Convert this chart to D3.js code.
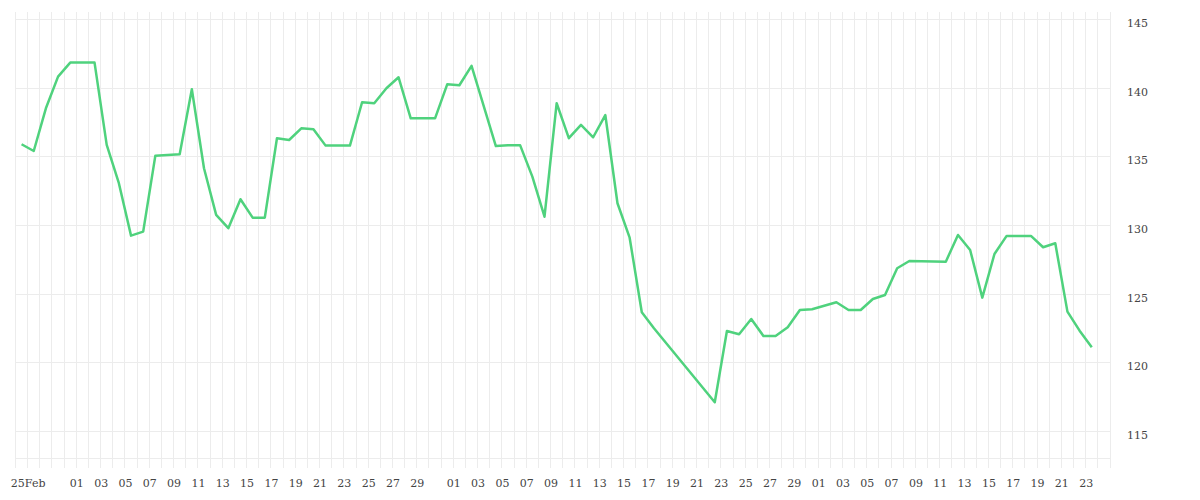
<!DOCTYPE html>
<html>
<head>
<meta charset="utf-8">
<script src="https://cdn.jsdelivr.net/npm/d3@7"></script>
<style>
  html, body { margin: 0; padding: 0; background: #fff; }
  svg { display: block; }
</style>
</head>
<body>
<svg id="chart" width="1200" height="500"></svg>
<script>
// ---- data ----
const dates = [
  "2019-02-24","2019-02-25","2019-02-26","2019-02-27","2019-02-28","2019-03-02","2019-03-03","2019-03-04",
  "2019-03-05","2019-03-06","2019-03-07","2019-03-09","2019-03-10","2019-03-11","2019-03-12","2019-03-13",
  "2019-03-14","2019-03-15","2019-03-16","2019-03-17","2019-03-18","2019-03-19","2019-03-20","2019-03-21",
  "2019-03-23","2019-03-24","2019-03-25","2019-03-26","2019-03-27","2019-03-28","2019-03-30","2019-03-31",
  "2019-04-01","2019-04-02","2019-04-04","2019-04-05","2019-04-06","2019-04-07","2019-04-08","2019-04-09",
  "2019-04-10","2019-04-11","2019-04-12","2019-04-13","2019-04-14","2019-04-15","2019-04-16","2019-04-17",
  "2019-04-22","2019-04-23","2019-04-24","2019-04-25","2019-04-26","2019-04-27","2019-04-28","2019-04-29",
  "2019-04-30","2019-05-02","2019-05-03","2019-05-04","2019-05-05","2019-05-06","2019-05-07","2019-05-08",
  "2019-05-11","2019-05-12","2019-05-13","2019-05-14","2019-05-15","2019-05-16","2019-05-18","2019-05-19",
  "2019-05-20","2019-05-21","2019-05-22","2019-05-23"
];
const values = [
  135.92,135.43,138.54,140.85,141.87,141.87,135.87,133.08,
  129.26,129.55,135.09,135.19,139.93,134.17,130.77,129.80,
  131.91,130.57,130.57,136.36,136.23,137.08,137.01,135.82,
  135.82,138.98,138.91,140.00,140.80,137.81,137.81,140.29,
  140.22,141.63,135.79,135.84,135.84,133.56,130.64,138.91,
  136.36,137.33,136.43,138.05,131.62,129.11,123.67,122.51,
  117.11,122.31,122.07,123.18,121.95,121.95,122.58,123.84,
  123.89,124.40,123.84,123.84,124.64,124.93,126.88,127.41,
  127.36,129.31,128.21,124.74,127.92,129.24,129.24,128.41,
  128.70,123.72,122.33,121.12
];
const yTicks = [115, 120, 125, 130, 135, 140, 145];
const xDomain = ["2019-02-24", "2019-05-25"];
const yDomain = [113.05, 145.56];
const hiddenTickLabels = ["2019-02-27", "2019-03-31"];

// ---- chart ----
const parse = d3.utcParse("%Y-%m-%d");
const svg = d3.select("#chart");
const plotLeft = 15.5, plotRight = 1110, plotTop = 12, plotBottom = 458;
const labelFont = '"DejaVu Serif", serif';

const x = d3.scaleUtc().domain(xDomain.map(parse)).range([plotLeft, plotRight]);
const y = d3.scaleLinear().domain(yDomain).range([plotBottom, plotTop]);

const data = dates.map((d, i) => ({ date: d3.utcHour.offset(parse(d), 12), value: values[i] }));

const grid = svg.append("g").attr("stroke", "#ececec").attr("stroke-width", 1).attr("shape-rendering", "crispEdges");

// vertical day grid (extends below the plot as tick marks)
const days = d3.utcDay.range(x.domain()[0], d3.utcDay.offset(x.domain()[1], 1));
grid.selectAll("line.v").data(days).join("line")
  .attr("x1", d => x(d)).attr("x2", d => x(d))
  .attr("y1", plotTop).attr("y2", plotBottom + 10);

// horizontal grid
grid.selectAll("line.h").data(yTicks).join("line")
  .attr("x1", plotLeft).attr("x2", plotRight)
  .attr("y1", d => y(d)).attr("y2", d => y(d));
grid.append("line").attr("x1", plotLeft).attr("x2", plotRight).attr("y1", plotBottom).attr("y2", plotBottom);

// line
const line = d3.line().x(d => x(d.date)).y(d => y(d.value));
svg.append("path").datum(data)
  .attr("fill", "none")
  .attr("stroke", "#4fd27d")
  .attr("stroke-width", 2.5)
  .attr("stroke-linejoin", "round")
  .attr("d", line);

// x axis labels
const fmtKey = d3.utcFormat("%Y-%m-%d");
const tickDates = d3.utcDay.every(2).range(x.domain()[0], x.domain()[1])
  .filter(d => !hiddenTickLabels.includes(fmtKey(d)));
const firstTick = tickDates[0];
const xAxis = d3.axisBottom(x)
  .tickValues(tickDates)
  .tickSize(0)
  .tickPadding(0)
  .tickFormat(d => +d === +firstTick ? d3.utcFormat("%d%b")(d) : d3.utcFormat("%d")(d));
const gx = svg.append("g").attr("transform", `translate(0,${plotBottom})`).call(xAxis);
gx.select(".domain").remove();
gx.selectAll("text").attr("y", 29).attr("dy", 0).attr("fill", "#444")
  .attr("font-family", labelFont).attr("font-size", 11);
gx.attr("font-family", labelFont).attr("font-size", 11);

// y axis labels (right)
const yAxis = d3.axisRight(y).tickValues(yTicks).tickSize(0).tickPadding(0);
const gy = svg.append("g").attr("transform", `translate(1127,0)`).call(yAxis);
gy.select(".domain").remove();
gy.attr("font-family", labelFont).attr("font-size", 11);
gy.selectAll("text").attr("x", 0).attr("dy", "7px").attr("fill", "#444");
</script>
</body>
</html>
